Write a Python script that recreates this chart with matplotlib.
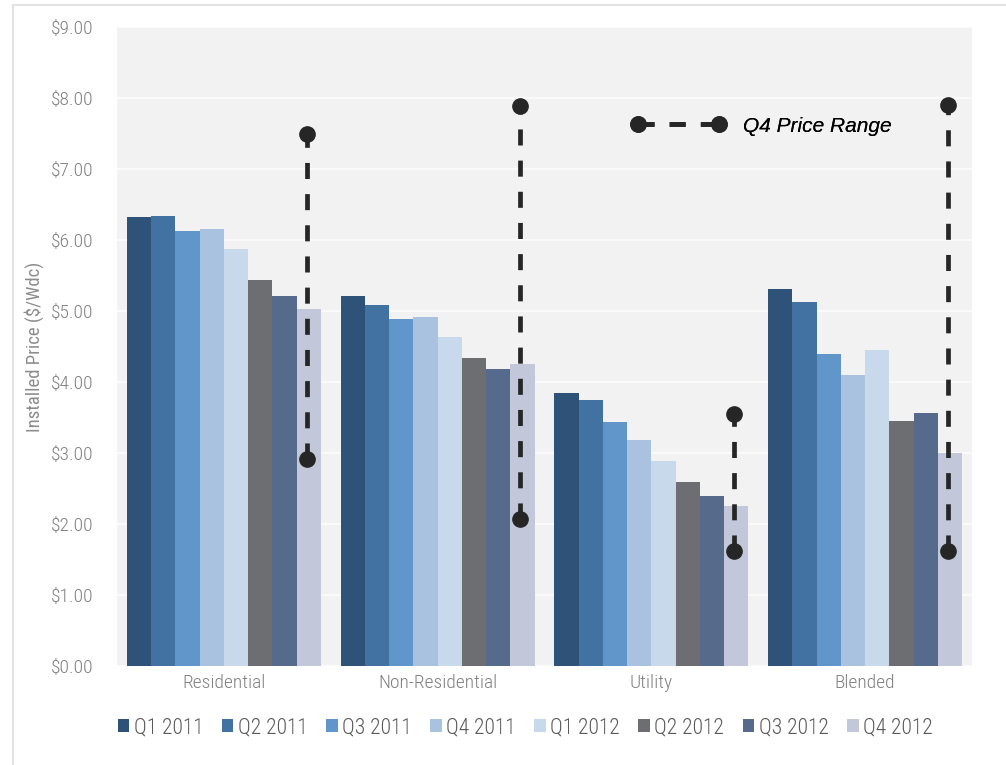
import numpy as np
import matplotlib.pyplot as plt
from matplotlib import font_manager
from matplotlib.lines import Line2D

# data
categories = ['Residential', 'Non-Residential', 'Utility', 'Blended']
quarters = ['Q1 2011', 'Q2 2011', 'Q3 2011', 'Q4 2011',
            'Q1 2012', 'Q2 2012', 'Q3 2012', 'Q4 2012']
prices = {
    'Residential':     [6.32, 6.34, 6.13, 6.15, 5.87, 5.44, 5.21, 5.03],
    'Non-Residential': [5.21, 5.08, 4.89, 4.91, 4.64, 4.34, 4.19, 4.25],
    'Utility':         [3.84, 3.74, 3.44, 3.18, 2.89, 2.59, 2.39, 2.26],
    'Blended':         [5.31, 5.13, 4.40, 4.10, 4.45, 3.45, 3.57, 3.00],
}
range_low = [2.92, 2.07, 1.62, 1.62]
range_high = [7.50, 7.89, 3.55, 7.90]
colors = ['#2F5279', '#4272A2', '#6096C9', '#A8C2E0',
          '#C8D9EC', '#6C6E72', '#566A8B', '#C2C8DA']

# pick a narrow font if there is one
have = {f.name for f in font_manager.fontManager.ttflist}
narrow = 'DejaVu Sans'
for cand in ['Roboto Condensed', 'Liberation Sans Narrow', 'DejaVu Sans Condensed',
             'Open Sans Condensed', 'Roboto']:
    if cand in have:
        narrow = cand
        break
plt.rcParams['font.family'] = [narrow, 'DejaVu Sans']
plt.rcParams['font.weight'] = 'light'
big = narrow != 'DejaVu Sans'

fig = plt.figure(figsize=(10.06, 7.65), dpi=100)
ax = fig.add_axes([0.1163, 0.1294, 0.8499, 0.8353])
ax.set_facecolor('#F2F2F2')

# light frame around the chart
fig.add_artist(Line2D([13/1006, 13/1006], [0, 1 - 5/765], color='#E2E2E2', lw=1.5))
fig.add_artist(Line2D([13/1006, 1.0], [1 - 5/765, 1 - 5/765], color='#E2E2E2', lw=1.5))

x = np.arange(len(categories))
w = 0.1135
for i, q in enumerate(quarters):
    vals = [prices[c][i] for c in categories]
    ax.bar(x + (i - 3.5) * w, vals, width=w, color=colors[i], label=q, zorder=2)

# Q4 price range lines
xr = x + 3.5 * w - 0.01
for xi, lo, hi in zip(xr, range_low, range_high):
    ax.plot([xi, xi], [lo, hi], color='#262626', lw=3.4, ls=(0, (3.4, 3.2)),
            marker='o', ms=11, zorder=4)

ax.set_xlim(-0.5, 3.5)
ax.set_ylim(0, 9)
ax.set_yticks(np.arange(0, 9.01, 1))
ax.set_yticklabels(['${:.2f}'.format(v) for v in np.arange(0, 9.01, 1)])
ax.set_xticks(x)
ax.set_xticklabels(categories)
ax.tick_params(axis='both', length=0, colors='#808080', labelsize=14 if big else 12)
ax.tick_params(axis='y', pad=17)
ax.tick_params(axis='x', pad=6)
ax.grid(axis='y', color='#FAFAFA', lw=1.5, zorder=1)
ax.set_axisbelow(True)
for s in ax.spines.values():
    s.set_visible(False)
ax.set_ylabel('Installed Price ($/Wdc)', color='#8C8C8C', fontsize=13.5 if big else 12)
ax.yaxis.set_label_coords(-0.085, 0.5)

# legend for the range marker
rng = Line2D([], [], color='#262626', lw=3.4, ls=(0, (3.4, 3.2)), marker='o', ms=11)
leg2 = ax.legend([rng], ['Q4 Price Range'], loc='center left',
                 bbox_to_anchor=(0.58, 0.845), frameon=False, numpoints=2,
                 handlelength=4.5, handletextpad=0.85,
                 prop={'family': 'Liberation Sans', 'style': 'italic', 'size': 15})
ax.add_artist(leg2)

fig.legend(loc='center', bbox_to_anchor=(0.522, 1 - 728/765), ncol=8, frameon=False,
           fontsize=15.5 if big else 12, handlelength=0.55, handleheight=0.55,
           handletextpad=0.2, columnspacing=0.85, labelcolor='#595959')

fig.savefig('out.png', dpi=100)
